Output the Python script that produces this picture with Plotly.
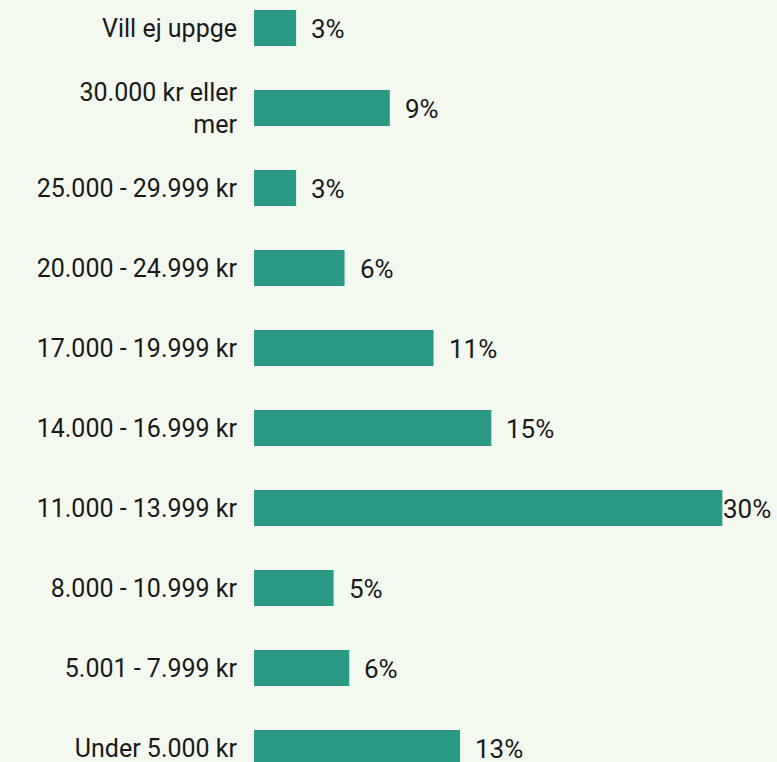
import plotly.graph_objects as go

# income brackets, bottom to top as drawn
categories = ['Under 5.000 kr', '5.001 - 7.999 kr', '8.000 - 10.999 kr', '11.000 - 13.999 kr',
              '14.000 - 16.999 kr', '17.000 - 19.999 kr', '20.000 - 24.999 kr',
              '25.000 - 29.999 kr', '30.000 kr eller<br>mer', 'Vill ej uppge']
values = [13.2, 6.1, 5.1, 30.0, 15.2, 11.5, 5.8, 2.7, 8.7, 2.7]
labels = ['13%', '6%', '5%', '30%', '15%', '11%', '6%', '3%', '9%', '3%']

bg = '#f4f9f0'
bar_color = '#2a9a84'
font = 'Roboto'

fig = go.Figure()
fig.add_trace(go.Bar(
    x=values, y=list(range(len(categories))), orientation='h',
    marker=dict(color=bar_color, line=dict(width=0)),
    width=0.45, hoverinfo='skip'))

xmax = 33.5
for i, (v, lab) in enumerate(zip(values, labels)):
    if v > xmax - 4:
        # no room on the right, pin it to the edge
        fig.add_annotation(x=1, xref='paper', y=i, yref='y', text=lab, showarrow=False,
                           xanchor='right', xshift=-4, yshift=-1,
                           font=dict(size=26, color='#1a1a1a', family=font))
    else:
        fig.add_annotation(x=v, y=i, text=lab, showarrow=False, xanchor='left', xshift=13, yshift=-1,
                           font=dict(size=26, color='#1a1a1a', family=font))

fig.update_layout(
    width=777, height=762,
    margin=dict(l=254, r=0, t=0, b=0),
    paper_bgcolor=bg, plot_bgcolor=bg,
    showlegend=False,
    xaxis=dict(range=[0, xmax], visible=False, fixedrange=True),
    yaxis=dict(range=[-0.175, 9.35], tickmode='array', tickvals=list(range(len(categories))),
               ticktext=categories, showgrid=False, zeroline=False, showline=False,
               ticks='outside', ticklen=11, tickcolor=bg, ticklabeloverflow='allow',
               fixedrange=True,
               tickfont=dict(size=25, color='#1a1a1a', family=font)),
)

fig.write_html("out.html", config={'displayModeBar': False},
               post_script="document.body.style.margin='0';document.body.style.overflow='hidden';")
